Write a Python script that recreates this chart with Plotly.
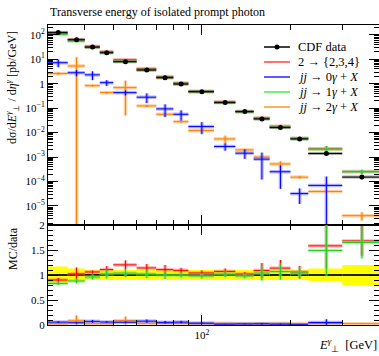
import plotly.graph_objects as go
from plotly.subplots import make_subplots

# ---------------- data ----------------
bin_edges = [30, 35, 40, 45, 50, 60, 70, 80, 90, 110, 130, 150, 170, 200, 230, 300, 400]

cdf_data = [125, 62.5, 31.5, 18.4, 7.9, 3.62, 1.76, 0.97, 0.471, 0.168, 0.072, 0.0362, 0.016, 0.0055, 0.00139, 0.000151]
cdf_err = [21, 8.1, 3.15, 1.84, 0.79, 0.362, 0.176, 0.087, 0.042, 0.015, 0.0065, 0.0033, 0.0015, 0.00055, 0.00018, 0.00003]

mc_2to234 = [112.5, 63.8, 33.4, 20.4, 9.5, 4.13, 1.95, 1.06, 0.49, 0.18, 0.0734, 0.0395, 0.0182, 0.00583, 0.0022, 0.000254]
mc_2to234_err = [5, 8.1, 0.95, 1.29, 0.71, 0.29, 0.16, 0.049, 0.024, 0.010, 0.0029, 0.0054, 0.0026, 0.00066, 0.00063, 0.000045]

mc_jj0 = [7.2, 2.8, 2.3, 1.1, 0.43, 0.28, 0.093, 0.056, 0.0176, 0.0027, 0.00144, 0.00082, 0.00025, 3.2e-5, 6.9e-5, None]
mc_jj0_err = [2.5, 0.8, 0.9, 0.3, 0.1, 0.12, 0.05, 0.025, 0.009, 0.0009, 0.0006, 0.0007, 0.0002, 2e-5, 9e-5, None]

mc_jj1 = [103.8, 55, 30.2, 18.8, 8.2, 3.69, 1.76, 0.97, 0.462, 0.171, 0.0706, 0.0376, 0.0171, 0.00572, 0.00207, 0.000249]
mc_jj1_err = [3.75, 3.1, 1.6, 1.66, 0.63, 0.29, 0.14, 0.049, 0.024, 0.010, 0.0036, 0.0054, 0.0026, 0.00066, 0.0007, 0.000048]

mc_jj2 = [2.6, 5.3, 0.83, 0.43, 0.69, 0.123, 0.056, 0.028, 0.0121, 0.0055, 0.00195, 0.001, 0.00052, 0.00015, 3.9e-5, 4e-6]
mc_jj2_err = [0.3, 6.7, 0.08, 0.04, 0.64, 0.012, 0.006, 0.003, 0.001, 0.002, 0.0002, 0.0001, 0.00015, 2e-5, 4e-6, 1.5e-6]

legend_labels = ["CDF data", "2 → {2,3,4}", "<i>jj</i> → 0<i>γ</i> + <i>X</i>",
                 "<i>jj</i> → 1<i>γ</i> + <i>X</i>", "<i>jj</i> → 2<i>γ</i> + <i>X</i>"]
ytick_vals = [1e-5, 1e-4, 1e-3, 1e-2, 1e-1, 1, 10, 100]
ytick_text = ["10<sup>−5</sup>", "10<sup>−4</sup>", "10<sup>−3</sup>", "10<sup>−2</sup>",
              "10<sup>−1</sup>", "1", "10<sup>1</sup>", "10<sup>2</sup>"]
rtick_vals = [0, 0.5, 1, 1.5, 2]
rtick_text = ["0", "0.5", "1", "1.5", "2"]
xtick_vals = [100]
xtick_text = ["10<sup>2</sup>"]

# ---------------- layout geometry ----------------
W, H = 379, 356
ML, MR, MT, MB = 48, 0, 25, 31
PW, PH = W - ML - MR, H - MT - MB
FONT = "Liberation Serif"


def px_x(p):
    return (p - ML) / PW


def px_y(p):
    return (H - MB - p) / PH


centers = [(a + b) / 2 for a, b in zip(bin_edges[:-1], bin_edges[1:])]
halfw = [(b - a) / 2 for a, b in zip(bin_edges[:-1], bin_edges[1:])]

fig = make_subplots(rows=2, cols=1, shared_xaxes=True, vertical_spacing=0,
                    row_heights=[2 / 3, 1 / 3])


def add_bins(y, err, row, dark, light, wide=3.5, thin=1.0):
    xs, ys, es, hw = [], [], [], []
    for c, v, e, h in zip(centers, y, err, halfw):
        if v is None:
            continue
        xs.append(c); ys.append(v); es.append(e); hw.append(h)
    for col, th in ((light, wide), (dark, thin)):
        fig.add_trace(go.Scatter(
            x=xs, y=ys, mode="markers",
            marker=dict(size=1, color="rgba(0,0,0,0)"),
            error_x=dict(type="data", array=hw, color=col, thickness=th, width=0),
            error_y=dict(type="data", array=es, color=col, thickness=th, width=0),
            showlegend=False, hoverinfo="skip"), row=row, col=1)


series = [
    (mc_2to234, mc_2to234_err, "#ff0000", "rgba(255,90,90,0.45)", "#ff7070"),
    (mc_jj1, mc_jj1_err, "#22cc22", "rgba(110,230,110,0.5)", "#77ee77"),
    (mc_jj2, mc_jj2_err, "#ff7f00", "rgba(255,170,80,0.55)", "#ffb060"),
    (mc_jj0, mc_jj0_err, "#0000ff", "rgba(90,90,255,0.45)", "#5a5aff"),
]

# ---- top panel ----
for y, e, dark, light, _ in series:
    add_bins(y, e, 1, dark, light)

fig.add_trace(go.Scatter(
    x=centers, y=cdf_data, mode="markers",
    marker=dict(size=1, color="rgba(0,0,0,0)"),
    error_x=dict(type="data", array=halfw, color="rgba(60,60,60,0.45)", thickness=3, width=0),
    showlegend=False, hoverinfo="skip"), row=1, col=1)
fig.add_trace(go.Scatter(
    x=centers, y=cdf_data, mode="markers",
    marker=dict(size=5, color="black"),
    error_x=dict(type="data", array=halfw, color="black", thickness=1, width=0),
    error_y=dict(type="data", array=cdf_err, color="black", thickness=1, width=0),
    showlegend=False, hoverinfo="skip"), row=1, col=1)

# ---- ratio panel ----
band_x, band_up, band_lo = [], [], []
for i in range(len(centers)):
    r = cdf_err[i] / cdf_data[i]
    band_x += [bin_edges[i], bin_edges[i + 1]]
    band_up += [1 + r, 1 + r]
    band_lo += [1 - r, 1 - r]
fig.add_trace(go.Scatter(
    x=band_x + band_x[::-1], y=band_up + band_lo[::-1], fill="toself",
    fillcolor="#ffff00", line=dict(width=0), mode="lines",
    showlegend=False, hoverinfo="skip"), row=2, col=1)

fig.add_trace(go.Scatter(
    x=centers, y=[d / d for d in cdf_data], mode="markers",
    marker=dict(size=1, color="rgba(0,0,0,0)"),
    error_x=dict(type="data", array=halfw, color="#222222", thickness=2, width=0),
    showlegend=False, hoverinfo="skip"), row=2, col=1)

for y, e, dark, light, _ in series:
    ry = [None if v is None else v / d for v, d in zip(y, cdf_data)]
    re = [None if v is None else v / d for v, d in zip(e, cdf_data)]
    add_bins(ry, re, 2, dark, light)

# ---------------- axes ----------------
minor_log = [k * 10 ** p for p in range(-6, 3) for k in range(2, 10)]
minor_x = [40, 50, 60, 70, 80, 90, 200, 300]
axis_common = dict(showline=True, linecolor="black", linewidth=1, mirror="allticks",
                   ticks="inside", tickcolor="black", showgrid=False, zeroline=False,
                   automargin=False,
                   tickfont=dict(family=FONT, size=11, color="black"))

fig.update_xaxes(type="log", range=[1.4771, 2.6021], tickvals=xtick_vals, ticktext=xtick_text,
                 ticklen=10, tickwidth=1,
                 minor=dict(tickvals=minor_x, ticks="inside", ticklen=5, tickcolor="black", tickwidth=1),
                 **axis_common)
fig.update_xaxes(showticklabels=False, row=1, col=1)
fig.update_xaxes(showticklabels=True, row=2, col=1)

fig.update_yaxes(type="log", range=[-5.78, 2.4], tickvals=ytick_vals, ticktext=ytick_text,
                 ticklen=10, tickwidth=1,
                 minor=dict(tickvals=minor_log, ticks="inside", ticklen=5, tickcolor="black", tickwidth=1),
                 row=1, col=1, **axis_common)
fig.update_yaxes(range=[0, 2], tickvals=rtick_vals, ticktext=rtick_text, ticklen=10, tickwidth=1,
                 minor=dict(dtick=0.1, ticks="inside", ticklen=5, tickcolor="black", tickwidth=1),
                 row=2, col=1, **axis_common)

# ---------------- text ----------------
ann = []
ann.append(dict(text="Transverse energy of isolated prompt photon", x=0, y=px_y(12),
                xref="paper", yref="paper", xanchor="left", yanchor="middle", showarrow=False,
                font=dict(family=FONT, size=12, color="black")))
ann.append(dict(text="dσ/d<i>E</i><sup><i>γ</i></sup><sub>⊥</sub> / d<i>η</i><sup><i>γ</i></sup> [pb/GeV]",
                x=px_x(13), y=px_y(88), xref="paper", yref="paper", textangle=-90,
                xanchor="center", yanchor="middle", showarrow=False,
                font=dict(family=FONT, size=12, color="black")))
ann.append(dict(text="MC/data", x=px_x(13), y=px_y(249), xref="paper", yref="paper", textangle=-90,
                xanchor="center", yanchor="middle", showarrow=False,
                font=dict(family=FONT, size=12, color="black")))
ann.append(dict(text="<i>E</i><sup><i>γ</i></sup><sub>⊥</sub>  [GeV]", x=1, y=px_y(345),
                xref="paper", yref="paper", xanchor="right", yanchor="middle", showarrow=False,
                font=dict(family=FONT, size=12.5, color="black")))

# legend built from text + line samples
legend_rows = [47, 62, 77, 92, 107]
legend_cols = ["black"] + [s[4] for s in [series[0], series[3], series[1], series[2]]]
shapes = []
for lab, py, col in zip(legend_labels, legend_rows, legend_cols):
    ann.append(dict(text=lab, x=px_x(296), y=px_y(py), xref="paper", yref="paper",
                    xanchor="left", yanchor="middle", showarrow=False,
                    font=dict(family=FONT, size=12.5, color="black")))
    shapes.append(dict(type="line", xref="paper", yref="paper", x0=px_x(264), x1=px_x(290),
                       y0=px_y(py), y1=px_y(py), line=dict(color=col, width=2 if col != "black" else 1.5)))
shapes.append(dict(type="circle", xref="paper", yref="paper", x0=px_x(274.5), x1=px_x(279.5),
                   y0=px_y(44.5), y1=px_y(49.5), fillcolor="black", line=dict(color="black", width=0)))

fig.update_layout(width=W, height=H, margin=dict(l=ML, r=MR, t=MT, b=MB),
                  paper_bgcolor="white", plot_bgcolor="white", showlegend=False,
                  annotations=ann, shapes=shapes,
                  font=dict(family=FONT, size=11, color="black"))

fig.write_html("out.html", config={"displayModeBar": False},
               post_script="document.body.style.margin='0';document.body.style.overflow='hidden';")
